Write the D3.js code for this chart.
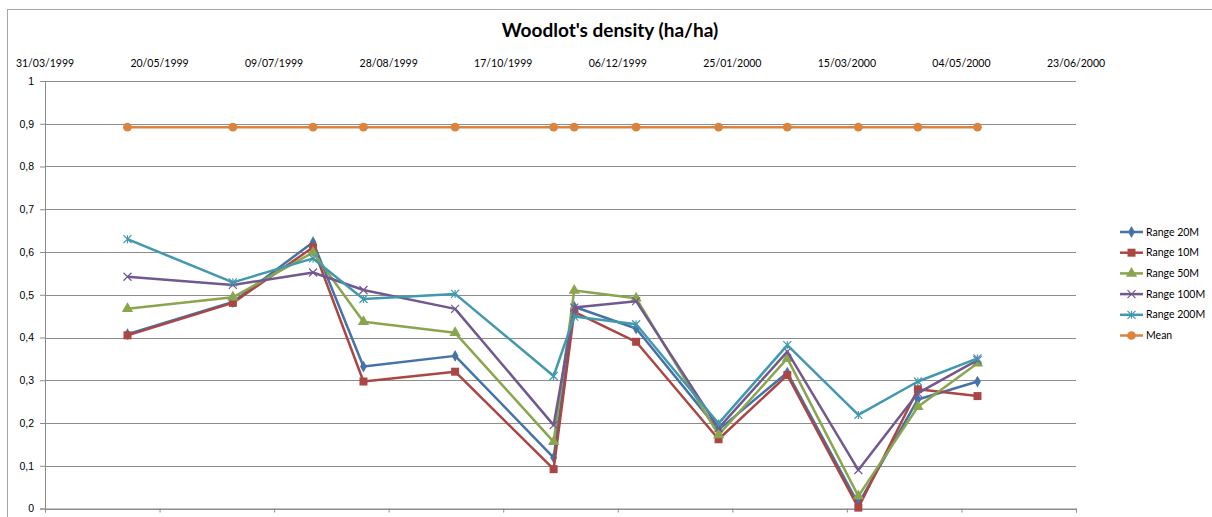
<!DOCTYPE html>
<html>
<head>
<meta charset="utf-8">
<script src="https://cdn.jsdelivr.net/npm/d3@7"></script>
<style>
  body { margin: 0; background: #fff; }
  svg { display: block; font-family: Lato, "Open Sans", sans-serif; }
</style>
</head>
<body>
<div class="chart"></div>
<script>
// sampling dates
const dates = ["06/05/1999", "21/06/1999", "26/07/1999", "17/08/1999", "26/09/1999", "08/11/1999",
    "17/11/1999", "14/12/1999", "19/01/2000", "18/02/2000", "20/03/2000", "15/04/2000", "11/05/2000"];

const range20 = [0.408, 0.483, 0.623, 0.332, 0.357, 0.119, 0.472, 0.421, 0.184, 0.318, 0.011, 0.255, 0.297];
const range10 = [0.405, 0.481, 0.611, 0.297, 0.320, 0.092, 0.460, 0.390, 0.162, 0.312, 0.002, 0.279, 0.263];
const range50 = [0.467, 0.494, 0.599, 0.437, 0.411, 0.156, 0.510, 0.492, 0.172, 0.351, 0.029, 0.238, 0.340];
const range100 = [0.542, 0.523, 0.552, 0.511, 0.467, 0.195, 0.470, 0.485, 0.188, 0.367, 0.090, 0.270, 0.347];
const range200 = [0.630, 0.529, 0.585, 0.490, 0.502, 0.310, 0.449, 0.431, 0.199, 0.382, 0.219, 0.297, 0.351];
const mean = [0.892, 0.892, 0.892, 0.892, 0.892, 0.892, 0.892, 0.892, 0.892, 0.892, 0.892, 0.892, 0.892];

const seriesNames = ["Range 20M", "Range 10M", "Range 50M", "Range 100M", "Range 200M", "Mean"];

const xTickLabels = ["31/03/1999", "20/05/1999", "09/07/1999", "28/08/1999", "17/10/1999",
    "06/12/1999", "25/01/2000", "15/03/2000", "04/05/2000", "23/06/2000"];
const yTicks = [0, 0.1, 0.2, 0.3, 0.4, 0.5, 0.6, 0.7, 0.8, 0.9, 1];

const parse = d3.utcParse("%d/%m/%Y");
const W = 1212, H = 517;
const margin = { top: 81, left: 45, right: W - 1076, bottom: H - 508.5 };
const width = W - margin.left - margin.right;
const height = H - margin.top - margin.bottom;

const series = [
    { name: seriesNames[0], values: range20, color: "#4572A7", marker: "diamond" },
    { name: seriesNames[1], values: range10, color: "#AA4643", marker: "square" },
    { name: seriesNames[2], values: range50, color: "#89A54E", marker: "triangle" },
    { name: seriesNames[3], values: range100, color: "#71588F", marker: "x" },
    { name: seriesNames[4], values: range200, color: "#4198AF", marker: "star" },
    { name: seriesNames[5], values: mean, color: "#DB843D", marker: "circle" }
];

const svgRoot = d3.select(".chart").append("svg")
    .attr("width", W)
    .attr("height", H);

// chart frame
svgRoot.append("rect")
    .attr("x", 7.5).attr("y", 9.5)
    .attr("width", 1230).attr("height", 530)
    .attr("fill", "none")
    .attr("stroke", "#a6a6a6");

svgRoot.append("text")
    .attr("x", 610).attr("y", 37)
    .attr("text-anchor", "middle")
    .style("font-size", "19px")
    .style("font-weight", "bold")
    .attr("fill", "#000")
    .text("Woodlot's density (ha/ha)");

const svg = svgRoot.append("g")
    .attr("transform", "translate(" + margin.left + "," + margin.top + ")");

const x = d3.scaleUtc()
    .domain([parse(xTickLabels[0]), parse(xTickLabels[xTickLabels.length - 1])])
    .range([0, width]);
const y = d3.scaleLinear().domain([0, 1]).range([height, 0]);

// gridlines
svg.append("g")
    .selectAll("line")
    .data(yTicks)
    .enter()
    .append("line")
    .attr("x1", 0).attr("x2", width)
    .attr("y1", d => Math.round(y(d)) + 0.5)
    .attr("y2", d => Math.round(y(d)) + 0.5)
    .attr("stroke", "#8c8c8c");

const fmtY = d => (d === 0 || d === 1) ? String(d) : d3.format(".1f")(d).replace(".", ",");

// y axis
const yAxis = svg.append("g")
    .call(d3.axisLeft(y).tickValues(yTicks).tickFormat(fmtY).tickSize(5).tickPadding(6));
yAxis.select(".domain").attr("stroke", "#8c8c8c");
yAxis.selectAll(".tick line").attr("stroke", "#8c8c8c");
yAxis.selectAll("text").style("font-size", "10.5px").attr("fill", "#000").attr("font-family", null);

// x axis: ticks at bottom, labels at top
const xTicks = xTickLabels.map(parse);
const xAxis = svg.append("g")
    .attr("transform", "translate(0," + height + ")")
    .call(d3.axisBottom(x).tickValues(xTicks).tickFormat("").tickSize(4));
xAxis.select(".domain").attr("stroke", "#8c8c8c");
xAxis.selectAll(".tick line").attr("stroke", "#8c8c8c");

svg.append("g")
    .selectAll("text")
    .data(xTickLabels)
    .enter()
    .append("text")
    .attr("x", d => x(parse(d)))
    .attr("y", -14)
    .attr("text-anchor", "middle")
    .style("font-size", "10.5px")
    .attr("fill", "#000")
    .text(d => d);

const symbolFor = {
    diamond: d3.symbol().type(d3.symbolDiamond).size(40),
    square: d3.symbol().type(d3.symbolSquare).size(64),
    triangle: d3.symbol().type(d3.symbolTriangle).size(55),
    circle: d3.symbol().type(d3.symbolCircle).size(60)
};

function drawMarker(g, type, color) {
    if (type === "x" || type === "star") {
        const s = 4;
        g.append("path")
            .attr("d", "M" + -s + "," + -s + "L" + s + "," + s + "M" + -s + "," + s + "L" + s + "," + -s +
                (type === "star" ? "M0," + -s + "L0," + s : ""))
            .attr("stroke", color)
            .attr("stroke-width", 1.2)
            .attr("fill", "none");
    } else {
        g.append("path")
            .attr("d", symbolFor[type]())
            .attr("fill", color);
    }
}

const line = d3.line()
    .x((d, i) => x(parse(dates[i])))
    .y(d => y(d));

series.forEach(function (s) {
    const g = svg.append("g");
    g.append("path")
        .datum(s.values)
        .attr("fill", "none")
        .attr("stroke", s.color)
        .attr("stroke-width", 2.5)
        .attr("stroke-linejoin", "round")
        .attr("d", line);
    g.selectAll(".pt")
        .data(s.values)
        .enter()
        .append("g")
        .attr("class", "pt")
        .attr("transform", (d, i) => "translate(" + x(parse(dates[i])) + "," + y(d) + ")")
        .each(function () { drawMarker(d3.select(this), s.marker, s.color); });
});

// legend
const legend = svgRoot.append("g").attr("transform", "translate(1120,232)");
const item = legend.selectAll(".item")
    .data(series)
    .enter()
    .append("g")
    .attr("class", "item")
    .attr("transform", (d, i) => "translate(0," + i * 20.7 + ")");
item.append("line")
    .attr("x1", 0).attr("x2", 23)
    .attr("stroke", d => d.color)
    .attr("stroke-width", 2.5);
item.each(function (d) {
    const m = d3.select(this).append("g").attr("transform", "translate(11.5,0)");
    drawMarker(m, d.marker, d.color);
});
item.append("text")
    .attr("x", 26)
    .attr("dy", "0.35em")
    .style("font-size", "10.5px")
    .attr("fill", "#000")
    .text(d => d.name);
</script>
</body>
</html>
